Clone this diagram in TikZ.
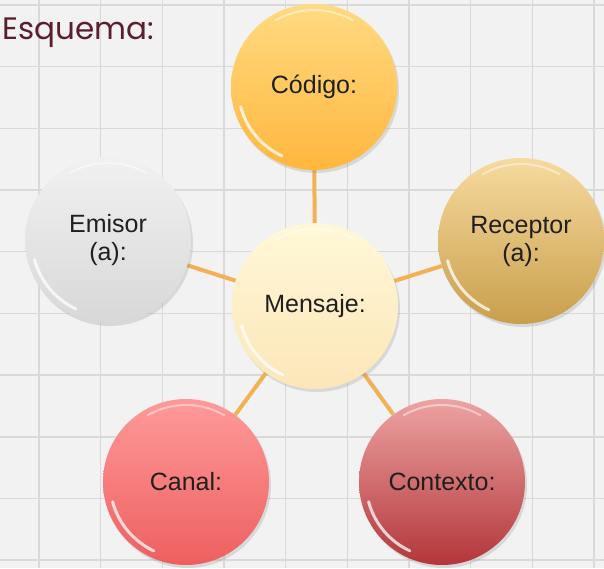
\documentclass[tikz,border=0pt]{standalone}
\usepackage{fontspec}
\setmainfont{Liberation Sans}
\newfontfamily\titlefont{Poppins}
\usepackage{tikz}
\usepackage{xcolor}
\usetikzlibrary{shadows,backgrounds}

\definecolor{colFondo}{HTML}{F2F2F2}
\definecolor{colRejilla}{HTML}{D9D9D9}
\definecolor{colEnlace}{HTML}{F2B155}
\definecolor{colTitulo}{HTML}{5A1E2E}
\definecolor{mensajeA}{HTML}{FFF8D8}
\definecolor{mensajeB}{HTML}{FCE6B8}
\definecolor{codigoA}{HTML}{FFDA82}
\definecolor{codigoB}{HTML}{FFB73E}
\definecolor{receptorA}{HTML}{F7DA9E}
\definecolor{receptorB}{HTML}{C89F4C}
\definecolor{contextoA}{HTML}{EDA3A3}
\definecolor{contextoB}{HTML}{B3363A}
\definecolor{canalA}{HTML}{FF9A9A}
\definecolor{canalB}{HTML}{EE5F5F}
\definecolor{emisorA}{HTML}{F1F1F1}
\definecolor{emisorB}{HTML}{D8D8D8}

\tikzset{
    burbuja/.style={circle, minimum size=166pt, inner sep=0pt, align=center,
        font=\fontsize{25}{28}\selectfont, text=black!88,
        top color=#1A, bottom color=#1B,
        drop shadow={opacity=0.22, shadow xshift=2pt, shadow yshift=-3pt},
        path picture={
            \draw[white, line width=3pt, opacity=0.75, line cap=round]
            ([shift={(195:76pt)}]path picture bounding box.center)
            arc[start angle=195, end angle=245, radius=76pt];
            \draw[white, line width=2pt, opacity=0.45, line cap=round]
            ([shift={(60:77pt)}]path picture bounding box.center)
            arc[start angle=60, end angle=120, radius=77pt];
        }},
    enlace/.style={colEnlace, line width=4pt},
    rejilla/.style={colRejilla, line width=1.6pt}
}

\begin{document}
\begin{tikzpicture}[x=1pt,y=-1pt]
    \useasboundingbox (0,0) rectangle (604,568);
    \begin{scope}[on background layer]
        \fill[colFondo] (0,0) rectangle (604,568);
        \foreach \i in {0,...,9} {
            \draw[rejilla] ({39+61.67*\i},0) -- ++(0,568);
            \draw[rejilla] (0,{5+61.67*\i}) -- ++(604,0);
        }
    \end{scope}
    \node[anchor=base west, inner sep=0pt, text=colTitulo, font=\titlefont\fontsize{31}{34}\selectfont] at (2,39) (titulo) {Esquema:};

    \node[burbuja=mensaje] at (315,306) (mensaje) {Mensaje:};
    \node[burbuja=codigo] at (314,87) (codigo) {Código:};
    \node[burbuja=receptor] at (521,241) (receptor) {Receptor\\(a):};
    \node[burbuja=contexto] at (442,482) (contexto) {Contexto:};
    \node[burbuja=canal] at (186,482) (canal) {Canal:};
    \node[burbuja=emisor] at (108,240) (emisor) {Emisor\\(a):};

    \begin{scope}[on background layer]
        \foreach \n in {codigo,receptor,contexto,canal,emisor}
            \draw[enlace] (mensaje) -- (\n);
    \end{scope}
\end{tikzpicture}
\end{document}
